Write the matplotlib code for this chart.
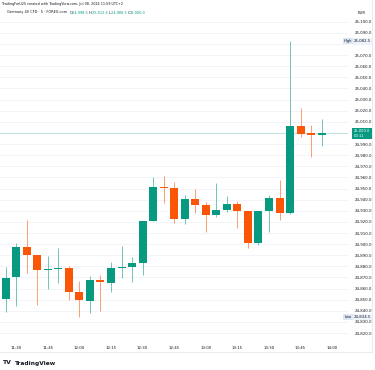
import matplotlib
matplotlib.use('Agg')
import matplotlib.pyplot as plt
from matplotlib.ticker import FixedLocator, FuncFormatter
from matplotlib.lines import Line2D

# 5-minute candles, Germany 40 CFD
times = ['11:25', '11:30', '11:35', '11:40', '11:45', '11:50', '11:55', '12:00',
         '12:05', '12:10', '12:15', '12:20', '12:25', '12:30', '12:35', '12:40',
         '12:45', '12:50', '12:55', '13:00', '13:05', '13:10', '13:15', '13:20',
         '13:25', '13:30', '13:35', '13:40', '13:45', '13:50', '13:55']
opens = [24850.4, 24870.1, 24897.8, 24889.9, 24877.0, 24877.8, 24878.2, 24856.7,
         24849.1, 24867.5, 24865.3, 24878.2, 24879.1, 24882.7, 24920.8, 24951.6,
         24950.7, 24922.6, 24940.3, 24934.9, 24925.9, 24930.5, 24936.1, 24929.5,
         24901.3, 24929.5, 24941.7, 24927.7, 25006.2, 24999.0, 24998.5]
highs = [24879.7, 24900.7, 24921.7, 24890.5, 24889.3, 24896.2, 24880.3, 24866.8,
         24871.3, 24872.2, 24883.9, 24898.3, 24888.7, 24921.0, 24960.1, 24961.2,
         24956.1, 24944.2, 24949.3, 24938.1, 24955.2, 24943.3, 24939.0, 24929.8,
         24929.8, 24944.2, 24957.6, 25082.5, 25022.1, 25007.1, 25012.5]
lows = [24839.2, 24844.3, 24874.0, 24845.2, 24859.4, 24865.3, 24849.7, 24834.5,
        24837.8, 24840.1, 24856.9, 24869.5, 24865.5, 24872.2, 24920.5, 24936.7,
        24919.2, 24917.8, 24927.7, 24911.2, 24924.1, 24929.1, 24914.2, 24896.8,
        24899.2, 24911.2, 24921.7, 24927.0, 24996.0, 24978.1, 24988.5]
closes = [24869.8, 24897.7, 24889.9, 24876.7, 24877.5, 24878.3, 24856.9, 24849.7,
          24867.3, 24865.5, 24878.5, 24879.7, 24882.7, 24920.8, 24951.6, 24950.7,
          24922.6, 24940.3, 24934.9, 24925.9, 24930.7, 24936.1, 24929.5, 24901.3,
          24929.5, 24941.7, 24928.2, 25006.2, 24998.7, 24998.5, 25000.0]

time_ticks = ['11:30', '11:45', '12:00', '12:15', '12:30', '12:45',
              '13:00', '13:15', '13:30', '13:45', '14:00']
price_ticks = list(range(24820, 25101, 10))
hidden_ticks = [25080, 25000]   # covered by the High / last price labels

up_col = '#089981'
down_col = '#fb5607'
text_col = '#131722'
grid_col = '#f0f3fa'

W, H = 375, 370
fig = plt.figure(figsize=(W / 100, H / 100), dpi=100)
fig.patch.set_facecolor('white')

def px(x, y):
    return x / W, 1 - y / H

# plot area in pixels: x 0..348, y 17..338
ax = fig.add_axes([0.0, 1 - 338 / H, 348 / W, (338 - 17) / H])
ax.set_facecolor('white')
for s in ax.spines.values():
    s.set_visible(False)

xs = list(range(len(times)))
for i in xs:
    o, h, l, c = opens[i], highs[i], lows[i], closes[i]
    col = up_col if c >= o else down_col
    ax.vlines(i, l, h, color=col, lw=0.5, alpha=0.8, zorder=2)
    body = max(abs(c - o), 1.0)
    ax.bar(i, body, bottom=min(o, c), width=0.76, color=col, lw=0, zorder=3)

# current price line
ax.axhline(closes[-1], color=up_col, lw=0.5, alpha=0.3, zorder=1)

ax.set_xlim(-0.54, 32.5)
ax.set_ylim(24815.6, 25104.2)

# time axis
tick_pos = [times.index(t) if t in times else len(times) for t in time_ticks]
ax.xaxis.set_major_locator(FixedLocator(tick_pos))
ax.set_xticklabels(time_ticks)
ax.tick_params(axis='x', length=0, pad=6, labelsize=2.8, labelcolor=text_col)

# price axis
ax.yaxis.tick_right()
ax.yaxis.set_major_locator(FixedLocator(price_ticks))
ax.yaxis.set_major_formatter(
    FuncFormatter(lambda v, p: '' if round(v) in hidden_ticks else f'{v:,.1f}'))
ax.tick_params(axis='y', length=0, pad=4.5, labelsize=2.8, labelcolor=text_col)
ax.grid(axis='y', color=grid_col, lw=0.6)
ax.set_axisbelow(True)

# frame lines of the price/time scales
fig.add_artist(Line2D([372 / W, 372 / W], [1 - 352 / H, 1.0],
                      color='#e0e3eb', lw=0.5))
fig.add_artist(Line2D([0, 372 / W], [1 - 352 / H, 1 - 352 / H],
                      color='#e0e3eb', lw=0.5))

fig.text(*px(362, 12.7), 'EUR', fontsize=2.8, color=text_col, ha='center', va='center')

def ypix(v):
    return 21.7 + (25100 - v) * 1.112

hi = max(highs)
lo = min(lows)
fig.text(*px(353.5, ypix(hi)), f'{hi:,.1f}', fontsize=2.8, color=text_col,
         ha='left', va='center',
         bbox=dict(boxstyle='square,pad=0.35', fc='#eef2fb', ec='none'))
fig.text(*px(348, ypix(hi)), 'High', fontsize=2.6, color=text_col,
         ha='center', va='center',
         bbox=dict(boxstyle='square,pad=0.35', fc='#dde6f5', ec='none'))
fig.text(*px(353.5, ypix(lo)), f'{lo:,.1f}', fontsize=2.8, color=text_col,
         ha='left', va='center',
         bbox=dict(boxstyle='square,pad=0.35', fc='#eef2fb', ec='none'))
fig.text(*px(348, ypix(lo)), 'Low', fontsize=2.6, color=text_col,
         ha='center', va='center',
         bbox=dict(boxstyle='square,pad=0.35', fc='#dde6f5', ec='none'))
fig.text(*px(353.5, ypix(closes[-1]) + 0.5), f'{closes[-1]:,.1f}\n00:11',
         fontsize=2.6, color='white', ha='left', va='center', linespacing=1.1,
         bbox=dict(boxstyle='square,pad=0.45', fc=up_col, ec='none'))

# header
fig.text(*px(2, 4), 'TradingForU25 created with TradingView.com, Jul 08, 2024 11:59 UTC+2',
         fontsize=2.4, color=text_col, ha='left', va='center')

renderer = fig.canvas.get_renderer()
parts = [('Germany 40 CFD · 5 · FOREX.com  ', text_col),
         ('O', text_col), (f'{opens[-1]:,.1f} ', up_col),
         ('H', text_col), (f'{highs[-1]:,.1f} ', up_col),
         ('L', text_col), (f'{lows[-1]:,.1f} ', up_col),
         ('C', text_col), (f'{closes[-1]:,.1f}', up_col)]
cx = 7
for s, col in parts:
    t = fig.text(*px(cx, 12.5), s, fontsize=2.5, color=col, ha='left', va='center')
    cx += t.get_window_extent(renderer).width

# footer logo
fig.text(*px(3, 363), 'TV', fontsize=4.4, fontweight='heavy', color=text_col,
         ha='left', va='center')
fig.text(*px(14.5, 363), 'TradingView', fontsize=4.2, fontweight='bold', color=text_col,
         ha='left', va='center')

fig.savefig('out.png', dpi=100, facecolor='white')
